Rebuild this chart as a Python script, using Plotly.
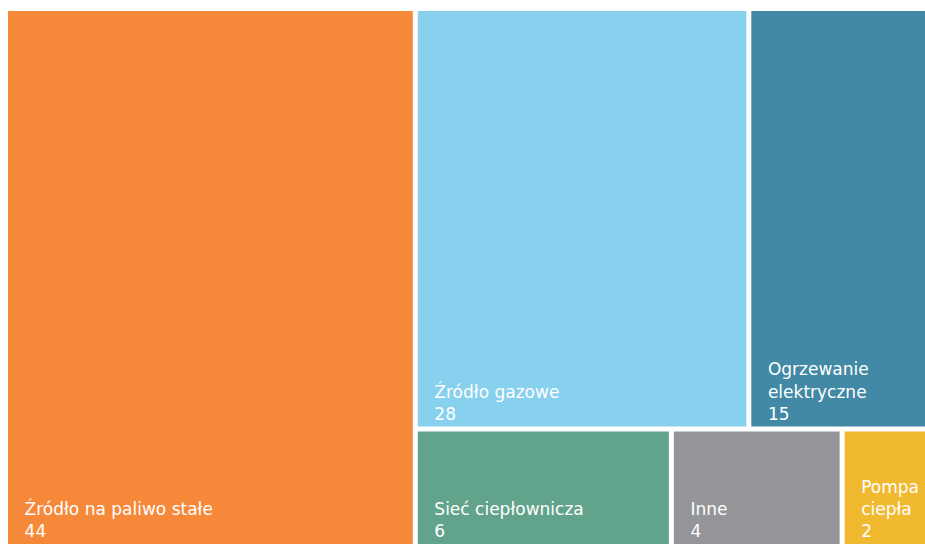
import plotly.graph_objects as go

categories = ["Źródło na paliwo stałe", "Źródło gazowe", "Ogrzewanie elektryczne",
              "Sieć ciepłownicza", "Inne", "Pompa ciepła"]
display_lines = [["Źródło na paliwo stałe"], ["Źródło gazowe"], ["Ogrzewanie", "elektryczne"],
                 ["Sieć ciepłownicza"], ["Inne"], ["Pompa", "ciepła"]]
values = [44, 28, 15, 6, 4, 2]
colors = ["#F6883A", "#87D0EE", "#4289A5", "#62A38B", "#949599", "#F0B930"]

indent = "\u2009\u2009\u2009\u2009"
display_text = ["<br>".join(indent + ln for ln in lines) for lines in display_lines]

fig = go.Figure(go.Treemap(
    labels=categories,
    parents=[""] * len(categories),
    values=values,
    text=display_text,
    customdata=[indent] * len(categories),
    texttemplate="%{text}<br>%{customdata}%{value}",
    textposition="bottom left",
    textfont=dict(family="DejaVu Sans", size=17, color="white"),
    marker=dict(colors=colors, line=dict(width=0), pad=dict(t=0, l=0, r=0, b=0)),
    tiling=dict(packing="squarify", squarifyratio=1.3, pad=5),
    pathbar=dict(visible=False),
    sort=True,
    hoverinfo="label+value",
))
fig.update_layout(
    width=925, height=544,
    margin=dict(l=8, t=11, r=0, b=0),
    paper_bgcolor="white",
)
fig.write_html(
    "out.html",
    config={"displayModeBar": False},
    post_script="document.body.style.margin='0';document.body.style.overflow='hidden';",
)
